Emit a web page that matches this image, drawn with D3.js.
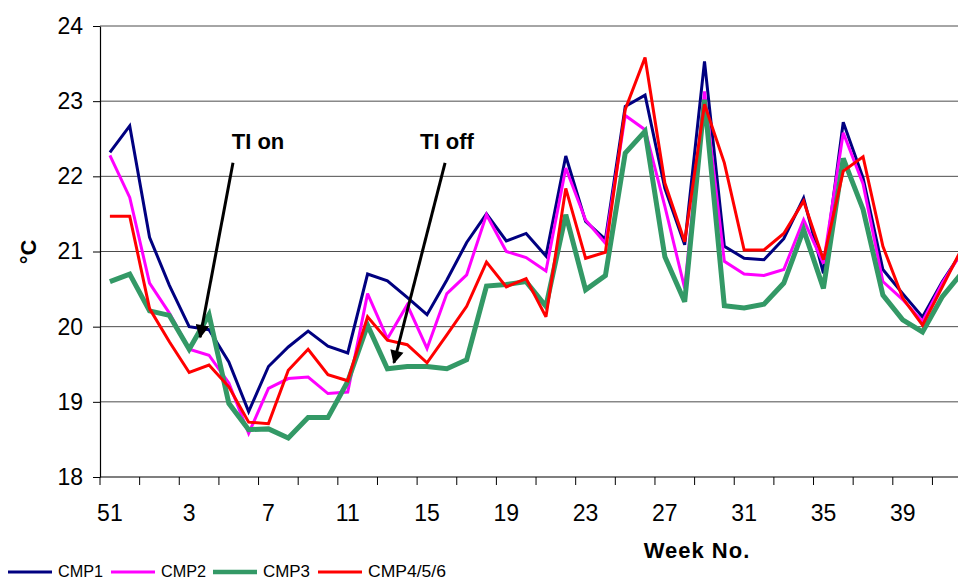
<!DOCTYPE html>
<html>
<head>
<meta charset="utf-8">
<script src="https://cdn.jsdelivr.net/npm/d3@7/dist/d3.min.js"></script>
<style>
  html, body { margin: 0; padding: 0; background: #fff; }
  svg { display: block; }
  text { font-family: "Liberation Sans", Arial, sans-serif; }
</style>
</head>
<body>
<svg id="chart" width="958" height="582"></svg>
<script>
// Week numbers (year wraps after week 52)
const weeks = ["51","52","1","2","3","4","5","6","7","8","9","10","11","12","13","14","15","16","17","18","19","20","21","22","23","24","25","26","27","28","29","30","31","32","33","34","35","36","37","38","39","40","41","42"];

// Weekly mean temperatures (°C)
const cmp1 = [22.32,22.67,21.19,20.55,20.0,19.96,19.53,18.87,19.47,19.73,19.94,19.74,19.65,20.70,20.61,20.39,20.16,20.62,21.12,21.50,21.14,21.24,20.94,22.27,21.40,21.16,22.93,23.08,21.84,21.09,23.53,21.07,20.91,20.89,21.17,21.71,20.71,22.72,21.98,20.76,20.44,20.13,20.6,21.0];
const cmp2 = [22.28,21.72,20.58,20.18,19.70,19.62,19.25,18.58,19.18,19.31,19.33,19.11,19.13,20.44,19.84,20.29,19.71,20.44,20.69,21.49,21.0,20.92,20.74,22.11,21.42,21.11,22.81,22.62,21.6,20.51,23.13,20.87,20.70,20.68,20.76,21.42,20.84,22.58,21.9,20.6,20.36,20.07,20.58,21.0];
const cmp3 = [20.6,20.70,20.21,20.15,19.70,20.16,18.98,18.63,18.64,18.52,18.79,18.79,19.27,20.02,19.44,19.47,19.47,19.44,19.56,20.54,20.56,20.6,20.27,21.49,20.49,20.68,22.31,22.6,20.93,20.33,23.02,20.28,20.25,20.3,20.58,21.29,20.51,22.24,21.56,20.42,20.09,19.93,20.4,20.72];
const cmp456 = [21.47,21.47,20.24,19.8,19.39,19.49,19.2,18.73,18.71,19.42,19.70,19.36,19.28,20.13,19.82,19.76,19.52,19.89,20.27,20.86,20.53,20.64,20.13,21.84,20.91,20.99,22.89,23.58,21.91,21.13,22.96,22.18,21.02,21.02,21.24,21.67,20.89,22.07,22.26,21.07,20.38,20.02,20.53,21.05];

const seriesNames = ["CMP1","CMP2","CMP3","CMP4/5/6"];
const seriesColors = ["#000080","#FF00FF","#339966","#FF0000"];
const seriesWidths = [3, 3, 5, 3];
const yTicks = [18,19,20,21,22,23,24];

const series = [cmp1, cmp2, cmp3, cmp456].map((v, k) => ({
  name: seriesNames[k], color: seriesColors[k], width: seriesWidths[k], values: v
}));

const svg = d3.select("#chart");
svg.append("rect").attr("width", 958).attr("height", 582).attr("fill", "#fff");

const plotLeft = 100, plotTop = 26, plotBottom = 477;
const step = 19.82;
const plotRight = plotLeft + step * weeks.length;

const x = d3.scaleBand().domain(weeks).range([plotLeft, plotRight]).paddingInner(0).paddingOuter(0);
const xc = w => x(w) + x.bandwidth() / 2;
const xi = i => plotLeft + step * (i + 0.5);   // fractional category position
const y = d3.scaleLinear().domain([18, 24]).range([plotBottom, plotTop]);

// Horizontal gridlines
svg.append("g").selectAll("line").data(yTicks.filter(t => t > 18)).join("line")
  .attr("x1", plotLeft).attr("x2", plotRight)
  .attr("y1", d => y(d)).attr("y2", d => y(d))
  .attr("stroke", "#4d4d4d").attr("stroke-width", 1);

// Y axis
const yAxis = svg.append("g").attr("transform", `translate(${plotLeft},0)`)
  .call(d3.axisLeft(y).tickValues(yTicks).tickFormat(d3.format("d")).tickSize(7).tickSizeOuter(0).tickPadding(10));
yAxis.select(".domain").attr("stroke", "#000").attr("stroke-width", 1.2);
yAxis.selectAll(".tick line").attr("stroke", "#000");
yAxis.selectAll(".tick text").attr("font-size", 23).attr("fill", "#000")
  .attr("font-family", "Liberation Sans, Arial, sans-serif");

// X axis line, tick marks at every second category boundary, labels every fourth week
svg.append("line").attr("x1", plotLeft).attr("x2", plotRight).attr("y1", plotBottom).attr("y2", plotBottom)
  .attr("stroke", "#000").attr("stroke-width", 1.2);
svg.append("g").selectAll("line").data(weeks.filter((w, i) => i % 2 === 0)).join("line")
  .attr("x1", d => x(d)).attr("x2", d => x(d))
  .attr("y1", plotBottom).attr("y2", plotBottom + 8)
  .attr("stroke", "#000").attr("stroke-width", 1);
svg.append("g").selectAll("text").data(weeks.filter((w, i) => i % 4 === 0)).join("text")
  .attr("x", d => xc(d)).attr("y", 521)
  .attr("text-anchor", "middle").attr("font-size", 23).attr("fill", "#000")
  .text(d => d);

// Axis titles
svg.append("text").attr("x", 697).attr("y", 558).attr("text-anchor", "middle")
  .attr("font-size", 22).attr("font-weight", "bold").attr("letter-spacing", 1).text("Week No.");
svg.append("text").attr("transform", "translate(36,252) rotate(-90)").attr("text-anchor", "middle")
  .attr("font-size", 22).attr("font-weight", "bold").text("°C");

// Series lines
const line = d3.line().x((d, i) => xc(weeks[i])).y(d => y(d));
svg.append("g").selectAll("path").data(series).join("path")
  .attr("d", d => line(d.values))
  .attr("fill", "none").attr("stroke", d => d.color).attr("stroke-width", d => d.width)
  .attr("stroke-linejoin", "miter").attr("stroke-miterlimit", 3);

// Annotation arrows
const defs = svg.append("defs");
defs.append("marker").attr("id", "arrowhead")
  .attr("viewBox", "0 0 10 10").attr("refX", 9).attr("refY", 5)
  .attr("markerWidth", 5).attr("markerHeight", 4.5).attr("orient", "auto")
  .attr("markerUnits", "strokeWidth")
  .append("path").attr("d", "M0,0 L10,5 L0,10 z").attr("fill", "#000");

const notes = [
  { label: "TI on",  tx: 258, ty: 149, from: [6.21, 22.18], to: [4.55, 19.86] },
  { label: "TI off", tx: 447, ty: 149, from: [16.91, 22.18], to: [14.33, 19.52] }
];
notes.forEach(n => {
  svg.append("line")
    .attr("x1", xi(n.from[0])).attr("y1", y(n.from[1]))
    .attr("x2", xi(n.to[0])).attr("y2", y(n.to[1]))
    .attr("stroke", "#000").attr("stroke-width", 3)
    .attr("marker-end", "url(#arrowhead)");
  svg.append("text").attr("x", n.tx).attr("y", n.ty).attr("text-anchor", "middle")
    .attr("font-size", 22).attr("font-weight", "bold").text(n.label);
});

// Legend along the bottom edge
const legendX = [8, 111, 213, 318];
const legendTextW = [45, 45, 47, 78];
const lg = svg.append("g").selectAll("g").data(series).join("g")
  .attr("transform", (d, i) => `translate(${legendX[i]},572)`);
lg.append("line").attr("x1", 0).attr("x2", 44).attr("y1", 0).attr("y2", 0)
  .attr("stroke", d => d.color).attr("stroke-width", (d, i) => i === 2 ? 4.5 : 3);
lg.append("text").attr("x", 50).attr("y", 5)
  .attr("font-size", 17)
  .attr("textLength", (d, i) => legendTextW[i]).attr("lengthAdjust", "spacingAndGlyphs")
  .text(d => d.name);
</script>
</body>
</html>
